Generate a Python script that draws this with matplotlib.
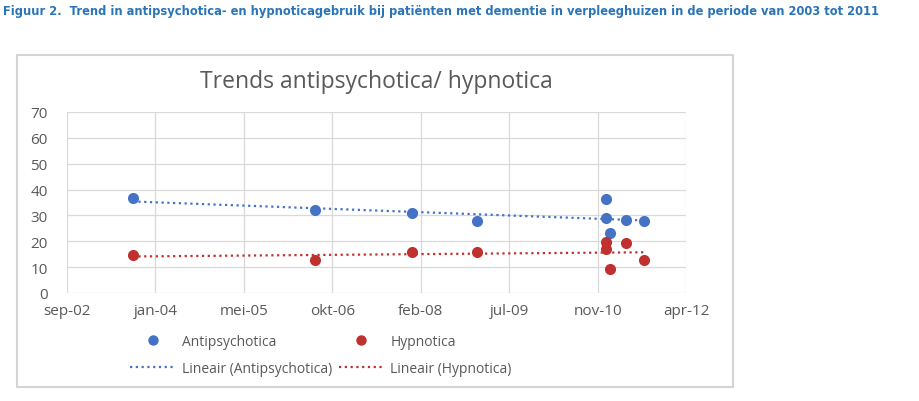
import numpy as np
import matplotlib
matplotlib.use("Agg")
import matplotlib.pyplot as plt
import matplotlib.dates as mdates
from matplotlib.lines import Line2D
from matplotlib.patches import Rectangle

# ---- data ----
dates = ["2003-09-07", "2006-07-04", "2008-01-03", "2009-01-03", "2011-01-03",
         "2011-01-03", "2011-01-27", "2011-04-28", "2011-08-06"]
antipsychotica = [36.6, 32.2, 30.8, 28.0, 36.3, 28.9, 23.1, 28.2, 28.0]
hypnotica = [14.6, 12.8, 15.9, 15.9, 19.8, 17.0, 9.3, 19.3, 12.8]
tick_dates = ["2002-09-01", "2004-01-14", "2005-05-28", "2006-10-10",
              "2008-02-22", "2009-07-06", "2010-11-18", "2012-04-01"]
tick_labels = ["sep-02", "jan-04", "mei-05", "okt-06", "feb-08", "jul-09", "nov-10", "apr-12"]
y_ticks = [0, 10, 20, 30, 40, 50, 60, 70]

caption = ("Figuur 2.  Trend in antipsychotica- en hypnoticagebruik bij pati\u00ebnten met dementie "
           "in verpleeghuizen in de periode van 2003 tot 2011")
title = "Trends antipsychotica/ hypnotica"

BLUE = "#4472C4"
RED = "#C0302E"
GREY = "#595959"
GRID = "#D9D9D9"

plt.rcParams['font.family'] = ['Open Sans', 'DejaVu Sans']

fig = plt.figure(figsize=(9.2, 4.02), dpi=100)
W, H = 920, 402

# chart border
fig.patches.append(Rectangle((17 / W, 1 - 388 / H), 716 / W, 332 / H, transform=fig.transFigure,
                             fill=False, edgecolor="#D4D4D4", linewidth=1.5))

ax = fig.add_axes([67 / W, 1 - 294 / H, 619 / W, 181 / H])

x = mdates.date2num(np.array(dates, dtype="datetime64[D]"))
xt = mdates.date2num(np.array(tick_dates, dtype="datetime64[D]"))

ax.scatter(x, antipsychotica, s=64, color=BLUE, zorder=3, linewidths=0)
ax.scatter(x, hypnotica, s=64, color=RED, zorder=3, linewidths=0)

xs = np.array([x.min(), x.max()])
pa = np.polyfit(x, antipsychotica, 1)
ph = np.polyfit(x, hypnotica, 1)
ls = (0, (1, 1.6))
ax.plot(xs, np.polyval(pa, xs), color=BLUE, linestyle=ls, lw=1.6, zorder=2)
ax.plot(xs, np.polyval(ph, xs), color=RED, linestyle=ls, lw=1.6, zorder=2)

ax.set_xlim(xt[0], xt[-1])
ax.set_ylim(0, 70)
ax.set_xticks(xt)
ax.set_xticklabels(tick_labels)
ax.set_yticks(y_ticks)
ax.grid(True, color=GRID, lw=0.9)
ax.set_axisbelow(True)
for s in ax.spines.values():
    s.set_visible(False)
ax.tick_params(length=0, labelsize=11, colors=GREY, pad=7)
ax.tick_params(axis='y', pad=14)

fig.text(376 / W, 1 - 82 / H, title, ha="center", va="center", fontsize=16.5, color=GREY)

fig.text(3 / W, 1 - 12 / H, caption, ha="left", va="center", fontsize=8.3,
         fontweight="bold", color="#2A74B8",
         family=['Liberation Sans Narrow', 'DejaVu Sans'])

handles = [
    Line2D([], [], marker='o', ls='none', color=BLUE, markersize=7.5, markeredgewidth=0),
    Line2D([], [], color=BLUE, linestyle=ls, lw=1.6),
    Line2D([], [], marker='o', ls='none', color=RED, markersize=7.5, markeredgewidth=0),
    Line2D([], [], color=RED, linestyle=ls, lw=1.6),
]
labels = ["Antipsychotica", "Lineair (Antipsychotica)", "Hypnotica", "Lineair (Hypnotica)"]
leg = fig.legend(handles, labels, ncol=2, loc="center", bbox_to_anchor=(321 / W, 1 - 356 / H),
                 frameon=False, fontsize=10, handlelength=3.2, handletextpad=0.5,
                 columnspacing=0.5, labelspacing=0.85, labelcolor=GREY)

fig.savefig("out.png", dpi=100, facecolor="white")
